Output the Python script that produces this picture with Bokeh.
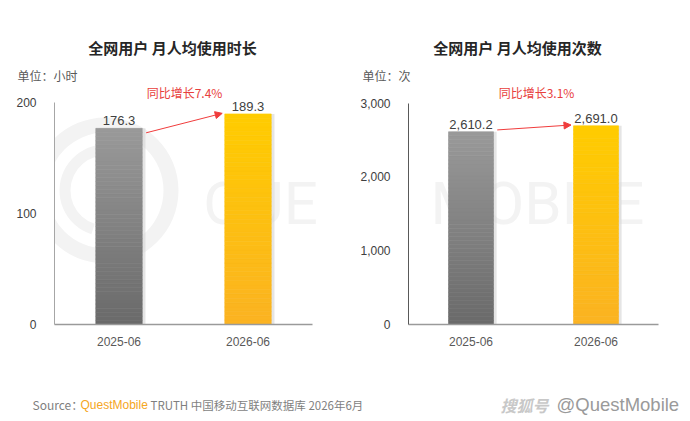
from bokeh.plotting import figure
from bokeh.models import (Range1d, FixedTicker, Label, Arrow, NormalHead,
                          NumeralTickFormatter, ColumnDataSource, LabelSet)
from bokeh.layouts import row, column
from bokeh.core.properties import value
from bokeh.embed import file_html
from bokeh.resources import INLINE

# ---------------- data ----------------
categories = ["2025-06", "2026-06"]
duration_values = [176.3, 189.3]
duration_labels = ["176.3", "189.3"]
count_values = [2610.2, 2691.0]
count_labels = ["2,610.2", "2,691.0"]
duration_growth = "同比增长7.4%"
count_growth = "同比增长3.1%"
duration_ticks = [0, 100, 200]
count_ticks = [0, 1000, 2000, 3000]
titles = ["全网用户 月人均使用时长", "全网用户 月人均使用次数"]
units = ["单位：小时", "单位：次"]
source_parts = ["Source：", "QuestMobile", "TRUTH 中国移动互联网数据库 2026年6月"]
watermark_parts = ["搜狐号", "@QuestMobile"]

CJK = "Noto Sans CJK SC"
LAT = "Liberation Sans"
WM = "#f3f3f3"

TOP_COLORS = [(153, 153, 153), (255, 204, 0)]
BOT_COLORS = [(106, 106, 106), (251, 179, 34)]

PAGE_W = 690
HEAD_H = 83
FOOT_H = 36
CHART_H = 421 - HEAD_H - FOOT_H
FRAME_BOTTOM_PAGE = 324


def hexc(c):
    return "#%02x%02x%02x" % tuple(int(round(v)) for v in c)


def blank_fig(w, h, y0, y1):
    f = figure(width=w, height=h, output_backend="svg", toolbar_location=None,
               x_range=Range1d(0, w), y_range=Range1d(y0, y1),
               x_axis_location=None, y_axis_location=None,
               min_border=0, min_border_left=0, min_border_right=0,
               min_border_top=0, min_border_bottom=0)
    f.outline_line_color = None
    f.grid.visible = False
    f.background_fill_color = "white"
    f.border_fill_color = "white"
    return f


def make_chart(vals, labels, growth, ticks, top_val, top_px, fmt,
               page_left, frame_left_page, cat_px, yaxis_color, arrow_dy0, arrow_dy1,
               growth_page_x, wm_text, wm_page_x, logo=False):
    W = 345
    frame_h = FRAME_BOTTOM_PAGE - HEAD_H
    ymax = top_val * frame_h / top_px
    bl = frame_left_page - page_left
    xend = -0.5 + (W - bl) / cat_px
    p = figure(width=W, height=CHART_H, output_backend="svg", toolbar_location=None,
               x_range=Range1d(-0.5, xend), y_range=Range1d(0, ymax),
               min_border_left=bl, min_border_right=0,
               min_border_top=0, min_border_bottom=CHART_H - frame_h)
    p.outline_line_color = None
    p.grid.visible = False
    p.background_fill_color = "white"
    p.border_fill_color = "white"

    def px_to_x(px):
        return -0.5 + (px - frame_left_page) / cat_px

    def py_to_y(py):
        return (FRAME_BOTTOM_PAGE - py) * top_val / top_px

    # faint watermark logo ring
    if logo:
        cx, cy = px_to_x(105), py_to_y(190)
        p.annulus(x=[cx], y=[cy], inner_radius=58, outer_radius=73,
                  inner_radius_units="screen", outer_radius_units="screen",
                  fill_color=WM, line_color=None)
        p.annular_wedge(x=[cx], y=[cy], inner_radius=35, outer_radius=46,
                        inner_radius_units="screen", outer_radius_units="screen",
                        start_angle=1.0, end_angle=4.4,
                        fill_color=WM, line_color=None)
    p.add_layout(Label(x=wm_page_x - frame_left_page, y=FRAME_BOTTOM_PAGE - 203,
                       x_units="screen", y_units="screen",
                       text=wm_text, text_font="Roboto",
                       text_font_size="60px", text_color=WM,
                       text_align="left", text_baseline="alphabetic", level="underlay"))

    xs = list(range(len(categories)))
    bw = 0.36
    # shadow
    sh = ColumnDataSource(dict(x=[x + 0.025 for x in xs], top=vals))
    p.vbar(x="x", top="top", bottom=0, width=bw, source=sh,
           fill_color="#d0d0d0", fill_alpha=0.55, line_color=None)
    # gradient bars (stacked slices)
    N = 48
    gx, gb, gt, gc = [], [], [], []
    for i, v in enumerate(vals):
        for k in range(N):
            f0 = k / N
            f1 = (k + 1) / N
            t = 1 - (f0 + f1) / 2  # 0 at top, 1 at bottom
            c = [TOP_COLORS[i][j] + (BOT_COLORS[i][j] - TOP_COLORS[i][j]) * t for j in range(3)]
            gx.append(xs[i]); gb.append(v * f0); gt.append(v * f1); gc.append(hexc(c))
    gs = ColumnDataSource(dict(x=gx, bottom=gb, top=gt, color=gc))
    p.vbar(x="x", bottom="bottom", top="top", width=bw, source=gs,
           fill_color="color", line_color="color", line_width=0.6)

    # value labels
    ls = ColumnDataSource(dict(x=xs, y=vals, t=labels))
    p.add_layout(LabelSet(x="x", y="y", text="t", source=ls, y_offset=3,
                          text_align="center", text_baseline="bottom",
                          text_font=value(LAT), text_font_size="13px",
                          text_color="#404040"))

    # growth arrow
    p.add_layout(Arrow(x_start=xs[0] + 0.21, y_start=vals[0] + arrow_dy0,
                       x_end=xs[1] - 0.2, y_end=vals[1] + arrow_dy1,
                       line_color="#f03c3c", line_width=1,
                       end=NormalHead(size=7, fill_color="#f03c3c", line_color="#f03c3c")))
    p.add_layout(Label(x=growth_page_x - frame_left_page, y=FRAME_BOTTOM_PAGE - 92,
                       x_units="screen", y_units="screen",
                       text=growth, text_font=CJK,
                       text_font_size="12px", text_color="#e8403c",
                       text_align="center", text_baseline="middle"))

    # axes
    p.xaxis.ticker = FixedTicker(ticks=xs)
    p.xaxis.bounds = (-0.5, 1.5)
    p.xaxis.major_label_overrides = {x: c for x, c in zip(xs, categories)}
    p.xaxis.axis_line_color = "#9a9a9a"
    p.xaxis.axis_line_width = 1.5
    p.xaxis.major_tick_line_color = None
    p.xaxis.minor_tick_line_color = None
    p.xaxis.major_label_standoff = 6
    p.xaxis.major_label_text_font = LAT
    p.xaxis.major_label_text_font_size = "12px"
    p.xaxis.major_label_text_color = "#595959"

    p.yaxis.ticker = FixedTicker(ticks=ticks)
    p.yaxis.bounds = (0, top_val)
    p.yaxis.formatter = NumeralTickFormatter(format=fmt)
    p.yaxis.axis_line_color = yaxis_color
    p.yaxis.major_tick_line_color = None
    p.yaxis.minor_tick_line_color = None
    p.yaxis.major_label_standoff = 12
    p.yaxis.major_label_text_font = LAT
    p.yaxis.major_label_text_font_size = "12px"
    p.yaxis.major_label_text_color = "#404040"
    return p


left = make_chart(duration_values, duration_labels, duration_growth,
                  duration_ticks, 200, 222.5, "0", 0, 54, 129, "#a6a6a6", -4, 0.5,
                  184, "QUE", 203, logo=True)
right = make_chart(count_values, count_labels, count_growth,
                   count_ticks, 3000, 221.5, "0,0", 345, 408, 125, "#595959", 25, 11,
                   536, "MOBILE", 430)

# header: page coordinates (y downward)
head = blank_fig(PAGE_W, HEAD_H, HEAD_H, 0)
for tx, cx in zip(titles, [172, 517]):
    head.add_layout(Label(x=cx, y=47, text=tx, text_font=CJK, text_font_style="bold",
                          text_font_size="15px", text_color="#262626",
                          text_align="center", text_baseline="middle"))
for tx, lx in zip(units, [17, 362]):
    head.add_layout(Label(x=lx, y=75, text=tx, text_font=CJK,
                          text_font_size="12px", text_color="#595959",
                          text_align="left", text_baseline="middle"))

# footer: page coordinates (y downward)
foot = blank_fig(PAGE_W, FOOT_H, 421, 421 - FOOT_H)
FY = 404
foot.add_layout(Label(x=32, y=FY, text=source_parts[0], text_font=CJK, text_font_size="12px",
                      text_color="#7f7f7f", text_baseline="middle"))
foot.add_layout(Label(x=80, y=FY, text=source_parts[1], text_font=LAT, text_font_size="12px",
                      text_color="#f5a623", text_baseline="middle"))
foot.add_layout(Label(x=150, y=FY, text=source_parts[2], text_font=CJK, text_font_size="11.5px",
                      text_color="#7f7f7f", text_baseline="middle"))
foot.add_layout(Label(x=500, y=FY, text=watermark_parts[0], text_font=CJK, text_font_size="16px",
                      text_font_style="bold italic", text_color="#c8c8c8", text_baseline="middle"))
foot.add_layout(Label(x=556, y=FY, text=watermark_parts[1], text_font=LAT, text_font_size="18.5px",
                      text_color="#9a9a9a", text_baseline="middle"))

layout = column(head, row(left, right), foot)
open("out.html", "w").write(file_html(layout, INLINE))
